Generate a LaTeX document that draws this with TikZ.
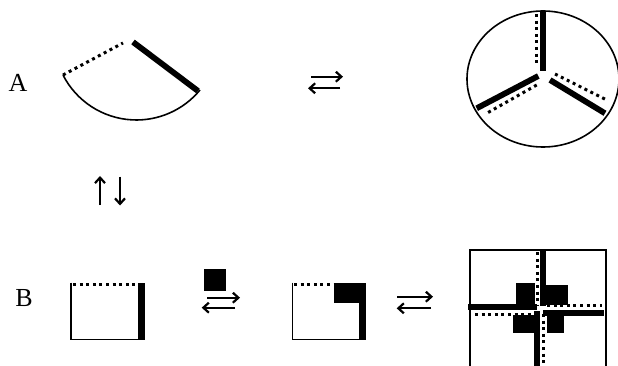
\documentclass[tikz,border=0pt]{standalone}
\usepackage{fontspec}
\setmainfont{Liberation Serif}
\usetikzlibrary{arrows.meta}
\begin{document}
\begin{tikzpicture}[x=1pt,y=-1pt,
  thin line/.style={line width=1.6pt},
  thick bar/.style={line width=5.8pt},
  dotline/.style={line width=3pt,dash pattern=on 3pt off 3.6pt},
  eqarrow/.style={line width=2.2pt,-{Straight Barb[length=5.5pt,width=10pt,line width=2.2pt]}},
  lbl/.style={font=\fontsize{26}{26}\selectfont,inner sep=0pt}]
\useasboundingbox (0,0) rectangle (618,366);
\fill[white] (0,0) rectangle (618,366);
\clip (0,0) rectangle (618,366);
% labels
\node[lbl] (A) at (18,83) {A};
\node[lbl] (B) at (24,298) {B};
% fan (sector)
\coordinate (fanL) at (63,75);
\draw[thin line] (fanL) arc[start angle=153, end angle=39.5, radius=82.4];
\draw[dotline] (fanL) -- (123,43);
\draw[thick bar] (133,42) -- (198,91);
% equilibrium arrows A
\coordinate (a1s) at (311,76.7); \coordinate (a1e) at (343,76.7);
\coordinate (a2s) at (340,88.3); \coordinate (a2e) at (308,88.3);
\draw[eqarrow] (a1s) -- (a1e);
\draw[eqarrow] (a2s) -- (a2e);
% circle with three spokes
\coordinate (cc) at (543,79);
\draw[thin line] (cc) ellipse[x radius=76, y radius=68];
\draw[thick bar] (543.3,12) -- (543.3,71.5);
\draw[dotline] (536.7,14) -- (536.7,66);
\draw[thick bar] (538.3,76) -- (476.7,108.3);
\draw[dotline] (536.7,85) -- (486.7,113.3);
\draw[thick bar] (550,80) -- (605,113.3);
\draw[dotline] (555,74) -- (606.7,100);
% vertical arrows
\draw[eqarrow] (100,205) -- (100,176);
\draw[eqarrow] (120,176.7) -- (120,205.5);
% rectangle 1
\draw[thin line] (71,282.7) -- (71,339.3) -- (141,339.3);
\draw[dotline] (73,284) -- (138,284);
\fill (138.3,282.7) rectangle (144.5,340);
% small square and arrows
\fill (204,269) rectangle (226,291);
\draw[eqarrow] (207,297.7) -- (240,297.7);
\draw[eqarrow] (235,307.7) -- (201.7,307.7);
% rectangle 2
\draw[thin line] (292.3,282.7) -- (292.3,339.3) -- (362,339.3);
\draw[dotline] (294,284) -- (334,284);
\fill (334.3,282.7) rectangle (365.7,303.3);
\fill (359.3,282.7) rectangle (365.7,340);
% arrows
\draw[eqarrow] (397,296.7) -- (433,296.7);
\draw[eqarrow] (431,308.3) -- (396.7,308.3);
% big square with cross
\draw[thin line] (470,250) rectangle (606,390);
\fill (515.7,283.3) rectangle (535,306);
\fill (545,285) rectangle (568.3,305);
\fill (546.7,312) rectangle (564,332.7);
\fill (512.7,315) rectangle (535,332.7);
\draw[thick bar] (542.8,250) -- (542.8,306);
\draw[dotline] (537.3,252) -- (537.3,305);
\draw[thick bar] (537.2,311) -- (537.2,370);
\draw[dotline] (543.8,314) -- (543.8,370);
\draw[thick bar] (468,307.3) -- (537,307.3);
\draw[dotline] (475,314.5) -- (532,314.5);
\draw[thick bar] (543,313) -- (604,313);
\draw[dotline] (547,305.5) -- (602,305.5);
\end{tikzpicture}
\end{document}
